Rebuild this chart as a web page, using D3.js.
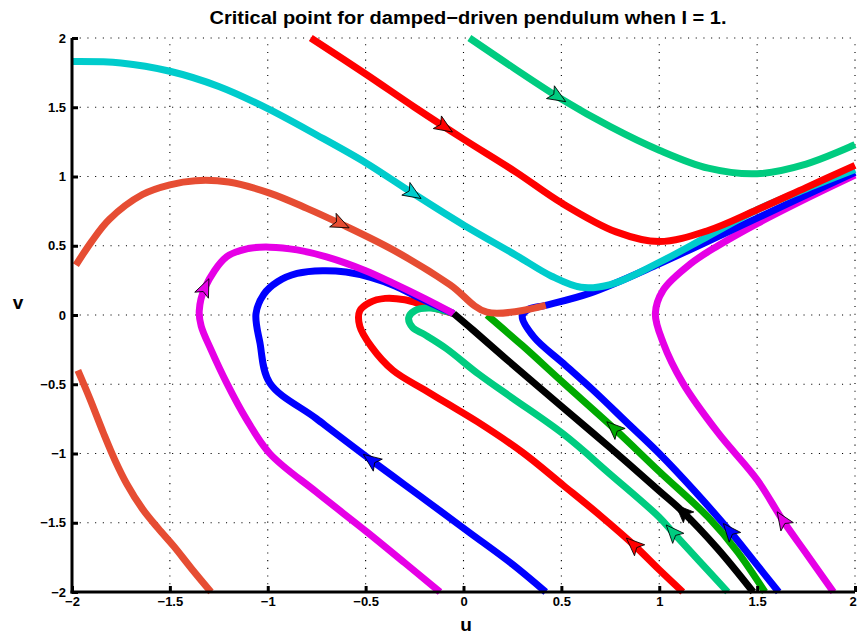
<!DOCTYPE html>
<html lang="en">
<head>
<meta charset="UTF-8">
<title>Critical point for damped-driven pendulum</title>
<script src="https://cdnjs.cloudflare.com/ajax/libs/d3/7.8.5/d3.min.js"></script>
<style>
  body { margin: 0; background: #fff; }
  svg { display: block; font-family: "Liberation Sans", Arial, Helvetica, sans-serif; }
</style>
</head>
<body>
<div id="chart"></div>
<script>
const width = 857, height = 635;

// axis ticks
const xTicks = [-2, -1.5, -1, -0.5, 0, 0.5, 1, 1.5, 2];
const xTickLabels = ["−2", "−1.5", "−1", "−0.5", "0", "0.5", "1", "1.5", "2"];
const yTicks = [-2, -1.5, -1, -0.5, 0, 0.5, 1, 1.5, 2];
const yTickLabels = ["−2", "−1.5", "−1", "−0.5", "0", "0.5", "1", "1.5", "2"];

const tealTop = [[0.03,2.0],[0.25,1.79],[0.5,1.56],[0.75,1.36],[1.0,1.19],[1.25,1.06],[1.5,1.02],[1.75,1.09],[2.0,1.23]];
const tomatoLow = [[-1.97,-0.4],[-1.91,-0.6],[-1.84,-0.85],[-1.78,-1.05],[-1.72,-1.22],[-1.64,-1.4],[-1.56,-1.54],[-1.48,-1.67],[-1.39,-1.83],[-1.29,-2.0]];
const magentaRight = [[1.89,-2.0],[1.75,-1.72],[1.63,-1.48],[1.5,-1.19],[1.3,-0.85],[1.12,-0.49],[1.02,-0.2],[0.98,0.01],[1.02,0.18],[1.16,0.37],[1.3,0.5],[1.5,0.66],[1.75,0.84],[2.0,1.01]];
const blueRight = [[1.61,-2.0],[1.48,-1.77],[1.36,-1.56],[1.18,-1.27],[1.0,-1.0],[0.83,-0.77],[0.66,-0.54],[0.51,-0.35],[0.36,-0.16],[0.3,-0.01],[0.33,0.04],[0.42,0.07],[0.65,0.16],[1.0,0.37],[1.5,0.7],[2.0,1.03]];
const cyanTop = [[-2.0,1.83],[-1.75,1.82],[-1.5,1.76],[-1.25,1.65],[-1.0,1.49],[-0.75,1.3],[-0.5,1.1],[-0.26,0.88],[0.0,0.65],[0.27,0.43],[0.45,0.28],[0.6,0.2],[0.75,0.22],[1.0,0.38],[1.25,0.57],[1.5,0.76],[1.75,0.91],[2.0,1.05]];
const redTop = [[-0.78,2.0],[-0.5,1.74],[-0.25,1.5],[0.0,1.27],[0.27,1.03],[0.5,0.81],[0.78,0.6],[1.0,0.53],[1.25,0.61],[1.5,0.76],[1.75,0.92],[2.0,1.08]];
const redLoop = [[1.12,-2.0],[1.0,-1.84],[0.87,-1.66],[0.7,-1.45],[0.51,-1.23],[0.3,-0.99],[0.07,-0.77],[-0.07,-0.65],[-0.2,-0.54],[-0.36,-0.4],[-0.47,-0.23],[-0.53,-0.08],[-0.53,0.03],[-0.48,0.09],[-0.4,0.12],[-0.3,0.11],[-0.2,0.07],[-0.05,0.01]];
const tealLoop = [[1.35,-2.0],[1.2,-1.77],[1.07,-1.57],[1.0,-1.46],[0.75,-1.15],[0.51,-0.86],[0.25,-0.6],[0.08,-0.43],[-0.09,-0.24],[-0.2,-0.14],[-0.26,-0.09],[-0.28,-0.02],[-0.25,0.03],[-0.17,0.05],[-0.05,0.01]];
const blueLoop = [[0.42,-2.0],[0.25,-1.8],[0.03,-1.57],[-0.2,-1.33],[-0.47,-1.05],[-0.75,-0.75],[-0.99,-0.49],[-1.04,-0.2],[-1.06,0.01],[-1.02,0.15],[-0.95,0.24],[-0.85,0.3],[-0.72,0.32],[-0.6,0.31],[-0.47,0.27],[-0.35,0.21],[-0.22,0.12],[-0.05,0.01]];
const magentaLoop = [[-0.12,-2.0],[-0.3,-1.79],[-0.49,-1.57],[-0.75,-1.28],[-0.99,-1.0],[-1.11,-0.75],[-1.21,-0.49],[-1.29,-0.25],[-1.34,-0.08],[-1.35,0.03],[-1.32,0.2],[-1.21,0.42],[-1.1,0.48],[-0.99,0.49],[-0.85,0.47],[-0.7,0.42],[-0.5,0.32],[-0.36,0.23],[-0.2,0.12],[-0.05,0.01]];
const blackCurve = [[-0.05,0.01],[0.05,-0.11],[0.22,-0.32],[0.51,-0.67],[0.75,-0.96],[1.0,-1.27],[1.12,-1.42],[1.3,-1.69],[1.48,-2.0]];
const greenCurve = [[0.12,0.0],[0.3,-0.22],[0.51,-0.49],[0.77,-0.82],[1.0,-1.13],[1.25,-1.46],[1.4,-1.71],[1.54,-2.0]];
const tomatoTop = [[-1.98,0.36],[-1.9,0.53],[-1.81,0.69],[-1.64,0.87],[-1.5,0.94],[-1.37,0.97],[-1.2,0.96],[-0.99,0.88],[-0.8,0.77],[-0.63,0.66],[-0.36,0.47],[-0.07,0.22],[0.12,0.02],[0.42,0.07]];

// arrow marks: which curve, where, and whether the flow runs along (+1) or against (-1) the point order
const arrowMarks = [
  {curve: "tealTop", u: 0.48, v: 1.58, dir: 1},
  {curve: "redTop", u: -0.1, v: 1.36, dir: 1},
  {curve: "cyanTop", u: -0.26, v: 0.88, dir: 1},
  {curve: "tomatoTop", u: -0.63, v: 0.66, dir: 1},
  {curve: "magentaLoop", u: -1.33, v: 0.2, dir: 1},
  {curve: "blueLoop", u: -0.47, v: -1.05, dir: 1},
  {curve: "redLoop", u: 0.87, v: -1.66, dir: 1},
  {curve: "tealLoop", u: 1.07, v: -1.57, dir: 1},
  {curve: "blackCurve", u: 1.12, v: -1.42, dir: -1},
  {curve: "greenCurve", u: 0.77, v: -0.82, dir: -1},
  {curve: "blueRight", u: 1.36, v: -1.56, dir: 1},
  {curve: "magentaRight", u: 1.63, v: -1.48, dir: 1}
];

// drawing order and colours
const curveList = [
  {name: "tealTop", pts: tealTop, color: "#00cc80"},
  {name: "tomatoLow", pts: tomatoLow, color: "#e64d33"},
  {name: "magentaRight", pts: magentaRight, color: "#e600e6"},
  {name: "blueRight", pts: blueRight, color: "#0000ff"},
  {name: "cyanTop", pts: cyanTop, color: "#00cccc"},
  {name: "redTop", pts: redTop, color: "#ff0000"},
  {name: "redLoop", pts: redLoop, color: "#ff0000"},
  {name: "tealLoop", pts: tealLoop, color: "#00cc80"},
  {name: "blueLoop", pts: blueLoop, color: "#0000ff"},
  {name: "magentaLoop", pts: magentaLoop, color: "#e600e6"},
  {name: "blackCurve", pts: blackCurve, color: "#000000"},
  {name: "greenCurve", pts: greenCurve, color: "#00aa00"},
  {name: "tomatoTop", pts: tomatoTop, color: "#e64d33"}
];

const plotLeft = 72, plotRight = 855, plotTop = 38, plotBottom = 592;

const x = d3.scaleLinear().domain([-2, 2]).range([plotLeft, plotRight]);
const y = d3.scaleLinear().domain([-2, 2]).range([plotBottom, plotTop]);

const svg = d3.select("#chart").append("svg")
  .attr("width", width)
  .attr("height", height);

// dotted grid
const grid = svg.append("g")
  .attr("stroke", "#000")
  .attr("stroke-width", 1.1)
  .attr("stroke-dasharray", "1.1,6.6");
grid.selectAll(".gx").data(xTicks.slice(1)).join("line")
  .attr("x1", d => x(d)).attr("x2", d => x(d))
  .attr("y1", plotBottom).attr("y2", plotTop);
grid.selectAll(".gy").data(yTicks.slice(1)).join("line")
  .attr("y1", d => y(d)).attr("y2", d => y(d))
  .attr("x1", plotLeft).attr("x2", plotRight);

const line = d3.line()
  .x(d => x(d[0]))
  .y(d => y(d[1]))
  .curve(d3.curveCatmullRom.alpha(0.5));

const paths = {};
curveList.forEach(c => {
  paths[c.name] = svg.append("path")
    .datum(c.pts)
    .attr("d", line)
    .attr("fill", "none")
    .attr("stroke", c.color)
    .attr("stroke-width", 7)
    .attr("stroke-linejoin", "round")
    .attr("stroke-linecap", "butt");
});

// arrowheads, oriented along the drawn path
const colorOf = {};
curveList.forEach(c => colorOf[c.name] = c.color);
arrowMarks.forEach(a => {
  const node = paths[a.curve].node();
  const total = node.getTotalLength();
  const px = x(a.u), py = y(a.v);
  let best = 0, bestD = Infinity;
  for (let l = 0; l <= total; l += 0.5) {
    const p = node.getPointAtLength(l);
    const dd = (p.x - px) ** 2 + (p.y - py) ** 2;
    if (dd < bestD) { bestD = dd; best = l; }
  }
  const p0 = node.getPointAtLength(Math.max(0, best - 3));
  const p1 = node.getPointAtLength(Math.min(total, best + 3));
  let ang = Math.atan2(p1.y - p0.y, p1.x - p0.x) * 180 / Math.PI;
  if (a.dir < 0) ang += 180;
  const c = node.getPointAtLength(best);
  svg.append("path")
    .attr("d", "M10,0 L-8,-7.5 L-4,0 L-8,7.5 Z")
    .attr("transform", `translate(${c.x},${c.y}) rotate(${ang})`)
    .attr("fill", colorOf[a.curve])
    .attr("stroke", "#000")
    .attr("stroke-width", 0.8)
    .attr("stroke-linejoin", "miter");
});

// axes, ticks pointing inward
const xAxis = svg.append("g")
  .attr("transform", `translate(0,${plotBottom})`)
  .call(d3.axisBottom(x).tickValues(xTicks).tickFormat((d, i) => xTickLabels[i])
    .tickSizeInner(-6).tickSizeOuter(0).tickPadding(5));
const yAxis = svg.append("g")
  .attr("transform", `translate(${plotLeft},0)`)
  .call(d3.axisLeft(y).tickValues(yTicks).tickFormat((d, i) => yTickLabels[i])
    .tickSizeInner(-6).tickSizeOuter(0).tickPadding(6));

[xAxis, yAxis].forEach(g => {
  g.select(".domain").attr("stroke", "#000").attr("stroke-width", 3);
  g.selectAll(".tick line").attr("stroke", "#000").attr("stroke-width", 3);
  g.selectAll(".tick text")
    .attr("fill", "#000")
    .style("font-family", "'Liberation Sans', Arial, sans-serif")
    .style("font-size", "13px")
    .style("font-weight", "bold");
});
xAxis.select(".domain").attr("d", `M${plotLeft - 1.5},0H${plotRight}`);
yAxis.select(".domain").attr("d", `M0,${plotTop}V${plotBottom + 1.5}`);
// keep the last x label inside the window
xAxis.selectAll(".tick text").filter((d, i) => i === xTicks.length - 1).attr("dx", -2.5);

// title and axis labels
svg.append("text")
  .attr("x", 468).attr("y", 24)
  .attr("text-anchor", "middle")
  .attr("textLength", 517)
  .attr("lengthAdjust", "spacingAndGlyphs")
  .style("font-size", "18px")
  .style("font-weight", "bold")
  .text("Critical point for damped−driven pendulum when I = 1.");

svg.append("text")
  .attr("x", 466).attr("y", 631)
  .attr("text-anchor", "middle")
  .style("font-size", "19px")
  .style("font-weight", "bold")
  .text("u");

svg.append("text")
  .attr("x", 18).attr("y", 309)
  .attr("text-anchor", "middle")
  .style("font-size", "19px")
  .style("font-weight", "bold")
  .text("v");
</script>
</body>
</html>
